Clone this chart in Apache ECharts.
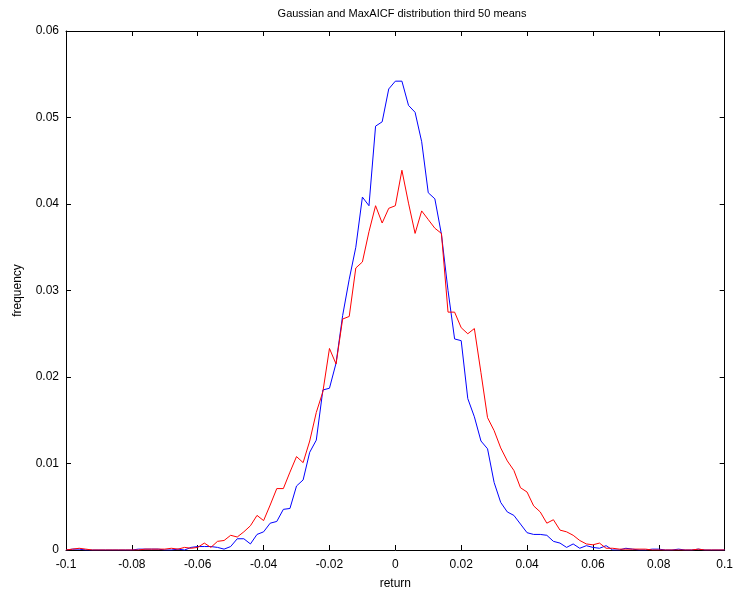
<!DOCTYPE html>
<html>
<head>
<meta charset="utf-8">
<script src="https://cdn.jsdelivr.net/npm/echarts@6/dist/echarts.min.js"></script>
<style>html,body{margin:0;padding:0;background:#fff}#c{width:736px;height:595px}</style>
</head>
<body>
<div id="c"></div>
<script>
const titleText = "Gaussian and MaxAICF distribution third 50 means";
const xName = "return";
const yName = "frequency";
// bin centres: -0.1 .. 0.1 step 0.002 (101 bins)
const binCount = 101;
const binStart = -0.1;
const binStep = 0.002;
const gaussian = [
0,0.0001,0.0001,0,0,0,0,0,0,0,
0,0.0001,0.0001,0.0001,0.0001,0,0,0.0001,0,0.0003,
0.0004,0.0004,0.0004,0.0003,0.0001,0.0004,0.0013,0.0013,0.0007,0.0018,
0.0021,0.0031,0.0033,0.0047,0.0048,0.0074,0.0081,0.0113,0.0127,0.0185,
0.0187,0.0216,0.0271,0.0313,0.0350,0.0408,0.0398,0.0490,0.0495,0.0533,
0.0542,
0.0542,0.0514,0.0506,0.0472,0.0413,0.0406,0.0365,0.0300,0.0244,0.0242,
0.0175,0.0154,0.0126,0.0117,0.0078,0.0055,0.0044,0.0040,0.0030,0.0020,
0.0018,0.0018,0.0017,0.0010,0.0008,0.0003,0.0007,0.0002,0.0005,0.0003,
0.0002,0.0005,0,0,0.0002,0.0001,0,0,0.0001,0.0001,
0,0,0.0001,0,0,0.0001,0,0,0,0
];
const maxaicf = [
0,0.0001,0.0002,0.0001,0,0,0,0,0,0,
0,0,0.0001,0.0001,0.0001,0.0001,0.0002,0.0001,0.0003,0.0002,
0.0003,0.0008,0.0003,0.0010,0.0011,0.0017,0.0015,0.0021,0.0028,0.0040,
0.0034,0.0052,0.0071,0.0071,0.0090,0.0108,0.0101,0.0126,0.0159,0.0183,
0.0233,0.0215,0.0267,0.0270,0.0326,0.0333,0.0368,0.0398,0.0378,0.0395,
0.0398,
0.0439,0.0401,0.0366,0.0392,0.0382,0.0372,0.0366,0.0275,0.0275,0.0257,
0.0250,0.0256,0.0205,0.0153,0.0138,0.0118,0.0103,0.0092,0.0072,0.0067,
0.0051,0.0044,0.0031,0.0035,0.0023,0.0021,0.0017,0.0011,0.0007,0.0006,
0.0008,0.0002,0.0002,0.0001,0.0001,0.0001,0.0001,0.0001,0,0,
0,0,0,0,0,0.0001,0,0,0,0
];
const xs = [];
for (let i = 0; i < binCount; i++) xs.push(+(binStart + i * binStep).toFixed(3));
const pairs = arr => arr.map((v, i) => [xs[i], v]);

const fontFam = '"Liberation Sans", Arial, sans-serif';
const fmt = v => String(Math.round(v * 100) / 100);
const axisCommon = {
  axisLine: {show: true, onZero: false, lineStyle: {color: '#000', width: 1}},
  axisTick: {show: true, inside: true, length: 5, lineStyle: {color: '#000'}},
  splitLine: {show: false}
};
const chart = echarts.init(document.getElementById('c'), null, {renderer: 'canvas'});
chart.setOption({
  animation: false,
  backgroundColor: '#fff',
  title: {text: titleText, left: 397, top: 3, textAlign: 'center',
    textStyle: {fontFamily: fontFam, fontSize: 11, fontWeight: 'normal', color: '#000'}},
  grid: {left: 66, right: 8, top: 31, bottom: 44, containLabel: false},
  xAxis: [
    Object.assign({type: 'value', min: -0.1, max: 0.1, interval: 0.02, position: 'bottom',
      name: xName, nameLocation: 'middle', nameGap: 28,
      nameTextStyle: {fontFamily: fontFam, fontSize: 12, color: '#000'},
      axisLabel: {formatter: fmt, fontFamily: fontFam, fontSize: 12, color: '#000', margin: 9}}, axisCommon),
    Object.assign({type: 'value', min: -0.1, max: 0.1, interval: 0.02, position: 'top',
      axisLabel: {show: false}}, axisCommon)
  ],
  yAxis: [
    Object.assign({type: 'value', min: 0, max: 0.06, interval: 0.01, position: 'left',
      name: yName, nameLocation: 'middle', nameGap: 42, nameRotate: 90,
      nameTextStyle: {fontFamily: fontFam, fontSize: 12, color: '#000'},
      axisLabel: {formatter: fmt, fontFamily: fontFam, fontSize: 12, color: '#000', margin: 7}}, axisCommon),
    Object.assign({type: 'value', min: 0, max: 0.06, interval: 0.01, position: 'right',
      axisLabel: {show: false}}, axisCommon)
  ],
  series: [
    {type: 'line', name: 'Gaussian', data: pairs(gaussian), showSymbol: false, symbol: 'none',
      lineStyle: {color: '#0000ff', width: 1}, itemStyle: {color: '#0000ff'}},
    {type: 'line', name: 'MaxAICF', data: pairs(maxaicf), showSymbol: false, symbol: 'none',
      lineStyle: {color: '#ff0000', width: 1}, itemStyle: {color: '#ff0000'}}
  ]
});
</script>
</body>
</html>
